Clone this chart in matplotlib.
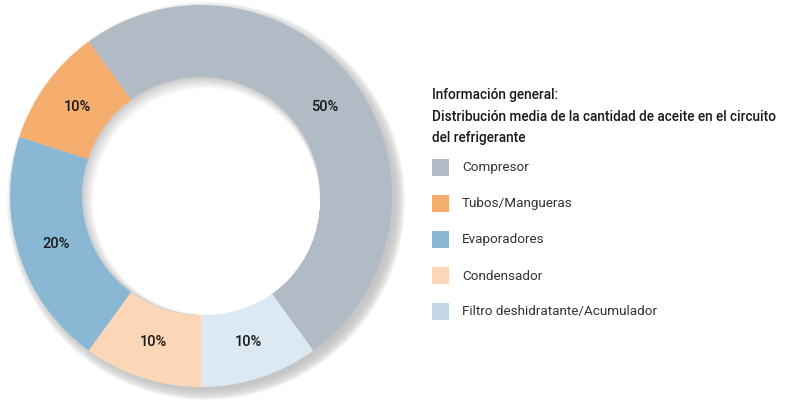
import matplotlib.pyplot as plt
from matplotlib.patches import Circle, Rectangle
import numpy as np

plt.rcParams['font.family'] = ['Roboto', 'DejaVu Sans']

# datos
categorias = ['Compresor', 'Tubos/Mangueras', 'Evaporadores', 'Condensador',
              'Filtro deshidratante/Acumulador']
valores = [50, 10, 20, 10, 10]
colores = ['#b1bbc6', '#f5ae6e', '#8ab8d4', '#fbd7b8', '#dce9f2']
colores_leyenda = ['#b1bbc6', '#f5ae6e', '#8ab8d4', '#fbd7b8', '#c2d7e4']
titulo = 'Información general:\nDistribución media de la cantidad de aceite en el circuito\ndel refrigerante'

W, H = 798, 410
fig = plt.figure(figsize=(W / 100, H / 100), dpi=100)
ax = fig.add_axes([0, 0, 1, 1])
ax.set_xlim(0, W)
ax.set_ylim(0, H)
ax.set_aspect('equal')
ax.axis('off')

cx, cy, R = 201, H - 197, 191
r_hueco = 119

# sombra exterior (desplazada abajo a la derecha)
for k in range(12):
    ax.add_patch(Circle((cx + 5, cy - 5), R + 8 - k, color='#bdbdbd',
                        alpha=0.13, lw=0, zorder=0))

wedges, _, textos = ax.pie(valores, colors=colores, startangle=-54, counterclock=True,
                           center=(cx, cy), radius=R, frame=True,
                           autopct='%d%%', pctdistance=0.8,
                           wedgeprops=dict(linewidth=0),
                           textprops=dict(fontsize=10.5, fontweight='medium', color='#1a1a1a'))
ax.set_xlim(0, W)
ax.set_ylim(0, H)
ax.axis('off')

# hueco con sombra interior
n = 14
for k in range(n + 1):
    t = k / n
    g = 0.80 + 0.2 * t
    ax.add_patch(Circle((cx + 5.5 * t, cy - 5.5 * t), r_hueco - 6 * t,
                        color=(g, g, g), lw=0, zorder=3))
ax.add_patch(Circle((cx + 5.5, cy - 5.5), r_hueco - 6, color='white', lw=0, zorder=4))
for t in textos:
    t.set_zorder(5)

# titulo
fig.text(432 / W, 1 - 88 / H, titulo, ha='left', va='top', fontsize=9.8,
         fontweight='medium', color='#1a1a1a', linespacing=1.7)

# leyenda
for i, (lab, col) in enumerate(zip(categorias, colores_leyenda)):
    y = H - (168 + i * 36)
    ax.add_patch(Rectangle((432, y - 8.5), 17, 17, color=col, lw=0))
    ax.text(462, y, lab, ha='left', va='center', fontsize=9.7, color='#333333')

fig.savefig('out.png', dpi=100)
